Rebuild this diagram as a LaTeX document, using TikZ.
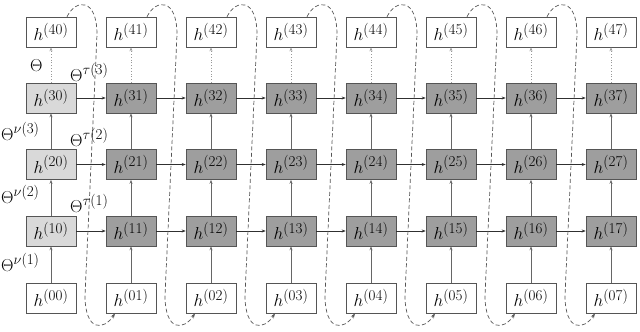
\documentclass[tikz,border=0pt]{standalone}
\usetikzlibrary{arrows.meta,calc}
\definecolor{boxline}{HTML}{555555}
\definecolor{lightg}{HTML}{D9D9D9}
\definecolor{darkg}{HTML}{9E9E9E}
\definecolor{vgray}{HTML}{666666}
\definecolor{dgray}{HTML}{999999}
\definecolor{hdark}{HTML}{303030}
\definecolor{loopc}{HTML}{555555}
\newcommand{\hlab}[1]{$h^{\mbox{\fontsize{15}{15}\selectfont(#1)}}$}
\newcommand{\thlab}[2]{$\Theta^{\mbox{\fontsize{15}{15}\selectfont$#1$(#2)}}$}
\begin{document}
\begin{tikzpicture}[x=1pt,y=-1pt,
  box/.style={draw=boxline,line width=0.6pt,minimum width=50pt,minimum height=30pt,inner sep=0pt,font=\fontsize{18}{20}\selectfont},
  inbox/.style={box,fill=white},
  lightbox/.style={box,fill=lightg},
  darkbox/.style={box,fill=darkg},
  uparrow/.style={draw=vgray,line width=0.9pt,-{Stealth[length=4pt,width=3pt]}},
  dotarrow/.style={draw=dgray,line width=0.8pt,dotted,-{Stealth[length=4pt,width=3pt]}},
  harrow/.style={draw=hdark,line width=0.6pt,-{Stealth[length=4pt,width=3pt]}},
  loopline/.style={draw=loopc,line width=0.7pt,dash pattern=on 4pt off 2.5pt,-{Stealth[length=5pt,width=3.5pt]}},
  lab/.style={font=\fontsize{16}{18}\selectfont,inner sep=0pt,anchor=base west}
]
\useasboundingbox (0,0) rectangle (640,332);
\foreach \j in {0,...,7}{
  \pgfmathsetmacro{\xx}{51+80*\j}
  \node[inbox] (h0\j) at (\xx,298) {\hlab{0\j}};
  \node[inbox] (h4\j) at (\xx,32) {\hlab{4\j}};
  \ifnum\j=0
    \node[lightbox] (h1\j) at (\xx,231) {\hlab{1\j}};
    \node[lightbox] (h2\j) at (\xx,164.5) {\hlab{2\j}};
    \node[lightbox] (h3\j) at (\xx,98) {\hlab{3\j}};
  \else
    \node[darkbox] (h1\j) at (\xx,231) {\hlab{1\j}};
    \node[darkbox] (h2\j) at (\xx,164.5) {\hlab{2\j}};
    \node[darkbox] (h3\j) at (\xx,98) {\hlab{3\j}};
  \fi
  \draw[uparrow] (h0\j) -- (h1\j);
  \draw[uparrow] (h1\j) -- (h2\j);
  \draw[uparrow] (h2\j) -- (h3\j);
  \draw[dotarrow] (h3\j) -- (h4\j);
}
\foreach \j [evaluate=\j as \k using int(\j+1)] in {0,...,6}{
  \draw[harrow] (h1\j) -- (h1\k);
  \draw[harrow] (h2\j) -- (h2\k);
  \draw[harrow] (h3\j) -- (h3\k);
  \draw[loopline] ($(h4\j.north)+(16,0)$) .. controls +(9,-18) and +(0,-37) .. ($(h4\j.north)+(46,18)$)
     -- ($(h0\k.south)+(-46,-18)$) .. controls +(0,37) and +(-11,17) .. ($(h0\k.south)+(-16,0)$);
}
\node[lab] (t4) at (30,71) {$\Theta$};
\node[lab] (tt3) at (70,81) {\thlab{\tau}{3}};
\node[lab] (tn3) at (1,140) {\thlab{\nu}{3}};
\node[lab] (tt2) at (70,146) {\thlab{\tau}{2}};
\node[lab] (tn2) at (1,203) {\thlab{\nu}{2}};
\node[lab] (tt1) at (70,212) {\thlab{\tau}{1}};
\node[lab] (tn1) at (1,271) {\thlab{\nu}{1}};
\end{tikzpicture}
\end{document}
